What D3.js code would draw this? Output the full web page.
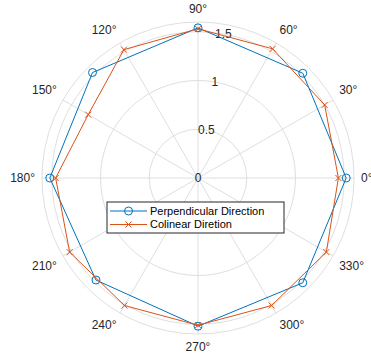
<!DOCTYPE html>
<html>
<head>
<meta charset="utf-8">
<script src="https://cdn.jsdelivr.net/npm/d3@7"></script>
<style>
  body { margin: 0; background: #fff; }
  svg { display: block; font-family: "Liberation Sans", Arial, sans-serif; }
</style>
</head>
<body>
<svg id="chart" width="371" height="361"></svg>
<script>
// perpendicular direction, sampled every 45 degrees (last point closes the loop)
const perpAngles = [0, 45, 90, 135, 180, 225, 270, 315, 360];
const perpValues = [1.52, 1.52, 1.54, 1.53, 1.52, 1.48, 1.52, 1.52, 1.52];
// colinear direction, sampled every 30 degrees
const colAngles = [0, 30, 60, 90, 120, 150, 180, 210, 240, 270, 300, 330, 360];
const colValues = [1.44, 1.50, 1.53, 1.53, 1.52, 1.30, 1.46, 1.52, 1.51, 1.51, 1.51, 1.52, 1.44];
const rTicks = [0, 0.5, 1, 1.5];
const thetaTicks = [0, 30, 60, 90, 120, 150, 180, 210, 240, 270, 300, 330];
const seriesNames = ["Perpendicular Direction", "Colinear Diretion"];

const svg = d3.select("#chart");
const cx = 198, cy = 178;
const R = 156;
const rMax = 1.6;
const blue = "#0072BD", red = "#D95319";
const gridColor = "#dfdfdf", textColor = "#262626";

const r = d3.scaleLinear().domain([0, rMax]).range([0, R]);
const rad = d => d * Math.PI / 180;
// MATLAB polar: 0 deg to the right, counter-clockwise
const px = (a, v) => cx + r(v) * Math.cos(rad(a));
const py = (a, v) => cy - r(v) * Math.sin(rad(a));

const g = svg.append("g");

// spokes
g.selectAll("line.spoke").data(thetaTicks).enter().append("line")
    .attr("x1", cx).attr("y1", cy)
    .attr("x2", d => px(d, rMax)).attr("y2", d => py(d, rMax))
    .attr("stroke", gridColor).attr("stroke-width", 1);

// rings, plus outer boundary
g.selectAll("circle.ring").data(rTicks.filter(d => d > 0).concat([rMax])).enter().append("circle")
    .attr("cx", cx).attr("cy", cy)
    .attr("r", d => r(d))
    .attr("fill", "none").attr("stroke", gridColor).attr("stroke-width", 1);

// angle labels
const labR = R + 7;
g.selectAll("text.theta").data(thetaTicks).enter().append("text")
    .attr("x", d => cx + labR * Math.cos(rad(d)))
    .attr("y", d => cy - labR * Math.sin(rad(d)))
    .attr("text-anchor", d => {
        const c = Math.cos(rad(d));
        return c > 0.1 ? "start" : (c < -0.1 ? "end" : "middle");
    })
    .attr("dy", d => {
        const s = Math.sin(rad(d));
        return s > 0.1 ? "-0.2em" : (s < -0.1 ? "0.85em" : "0.35em");
    })
    .attr("font-size", 12).attr("fill", textColor)
    .text(d => d + "°");

// radial tick labels along 80 degrees
g.selectAll("text.rtick").data(rTicks).enter().append("text")
    .attr("x", d => px(80, d)).attr("y", d => py(80, d))
    .attr("text-anchor", "middle").attr("dy", "0.35em")
    .attr("font-size", 12).attr("fill", textColor)
    .text(d => d);

const line = d3.line();

function drawSeries(angles, values, color, marker) {
    const pts = angles.map((a, i) => [px(a, values[i]), py(a, values[i])]);
    g.append("path").attr("d", line(pts))
        .attr("fill", "none").attr("stroke", color).attr("stroke-width", 1);
    const m = g.append("g");
    pts.slice(0, -1).forEach(p => drawMarker(m, p[0], p[1], color, marker));
}

function drawMarker(sel, x, y, color, marker) {
    if (marker === "o") {
        sel.append("circle").attr("cx", x).attr("cy", y).attr("r", 4)
            .attr("fill", "none").attr("stroke", color).attr("stroke-width", 1);
    } else {
        const s = 3;
        sel.append("path")
            .attr("d", `M${x - s},${y - s}L${x + s},${y + s}M${x - s},${y + s}L${x + s},${y - s}`)
            .attr("stroke", color).attr("stroke-width", 1).attr("fill", "none");
    }
}

drawSeries(perpAngles, perpValues, blue, "o");
drawSeries(colAngles, colValues, red, "x");

// legend
const lg = svg.append("g").attr("transform", "translate(107,202)");
lg.append("rect").attr("width", 177).attr("height", 31)
    .attr("fill", "#fff").attr("stroke", textColor).attr("stroke-width", 1);
const legendRows = [[blue, "o"], [red, "x"]];
legendRows.forEach((d, i) => {
    const y = 9 + i * 13.5;
    lg.append("line").attr("x1", 3).attr("x2", 40).attr("y1", y).attr("y2", y)
        .attr("stroke", d[0]).attr("stroke-width", 1);
    drawMarker(lg, 21.5, y, d[0], d[1]);
    lg.append("text").attr("x", 43).attr("y", y).attr("dy", "0.35em")
        .attr("font-size", 11).attr("fill", "#000")
        .text(seriesNames[i]);
});
</script>
</body>
</html>
